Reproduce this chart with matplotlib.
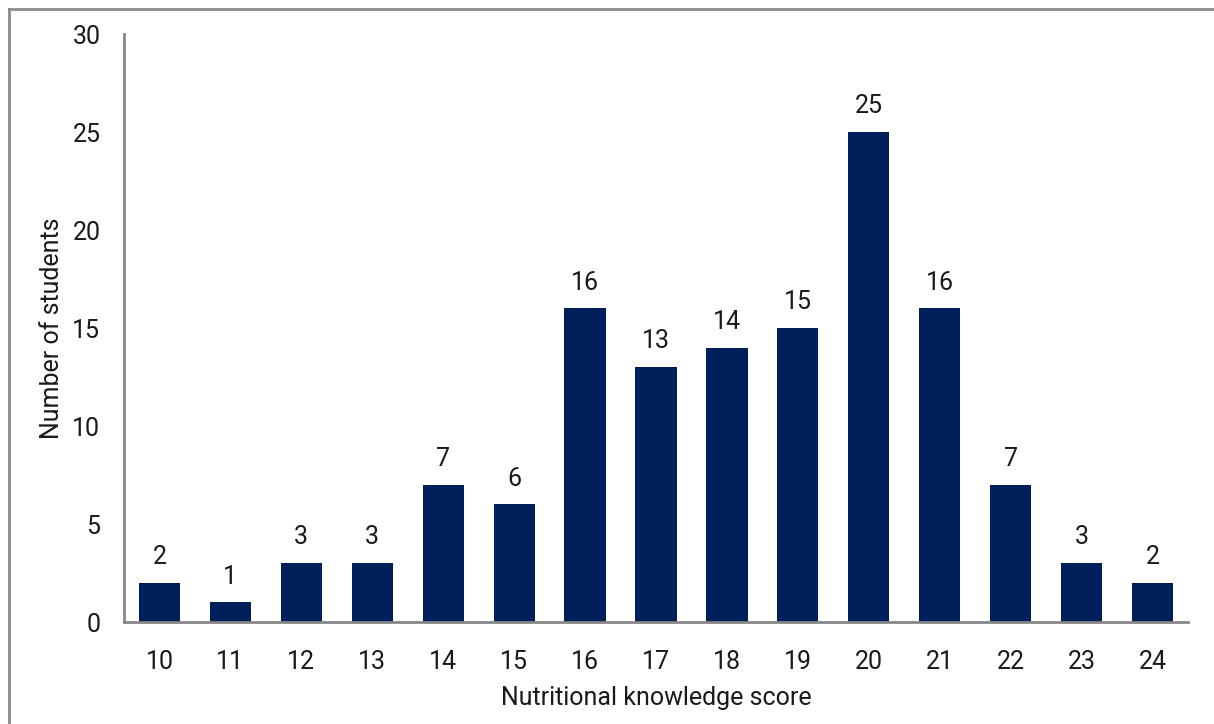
import matplotlib
matplotlib.use("Agg")
import matplotlib.pyplot as plt
from matplotlib.lines import Line2D

scores = ["10", "11", "12", "13", "14", "15", "16", "17", "18", "19", "20", "21", "22", "23", "24"]
students = [2, 1, 3, 3, 7, 6, 16, 13, 14, 15, 25, 16, 7, 3, 2]
yticks = [0, 5, 10, 15, 20, 25, 30]

plt.rcParams['font.family'] = ['Roboto', 'DejaVu Sans']

fig = plt.figure(figsize=(12.14, 7.24), dpi=100)
ax = fig.add_axes([124/1214, 102/724, (1188-124)/1214, (622-34)/724])

x = list(range(len(scores)))
bars = ax.bar(x, students, width=0.58, color="#00205B")
for xi, v in zip(x, students):
    ax.annotate(str(v), (xi, v), xytext=(0, 10), textcoords="offset points",
                ha="center", va="bottom", fontsize=18, color="#1a1a1a")

ax.set_xlim(-0.5, len(scores) - 0.5)
ax.set_ylim(0, 30)
ax.set_yticks(yticks)
ax.set_xticks(x)
ax.set_xticklabels(scores)
ax.tick_params(axis="both", length=0, labelsize=18, colors="#1a1a1a")
ax.tick_params(axis="x", pad=20)
ax.tick_params(axis="y", pad=17)
for s in ["top", "right"]:
    ax.spines[s].set_visible(False)
for s in ["left", "bottom"]:
    ax.spines[s].set_color("#868686")
    ax.spines[s].set_linewidth(2)

ax.set_xlabel("Nutritional knowledge score", fontsize=18, color="#1a1a1a", labelpad=9)
ax.set_ylabel("Number of students", fontsize=18, color="#1a1a1a", labelpad=6)

# outer chart border (top and left visible)
fig.add_artist(Line2D([8.5/1214, 1.0], [1 - 9/724, 1 - 9/724], transform=fig.transFigure,
                      color="#8c8c8c", linewidth=2))
fig.add_artist(Line2D([8.5/1214, 8.5/1214], [0, 1 - 9/724], transform=fig.transFigure,
                      color="#8c8c8c", linewidth=2))

fig.savefig("out.png", dpi=100)
